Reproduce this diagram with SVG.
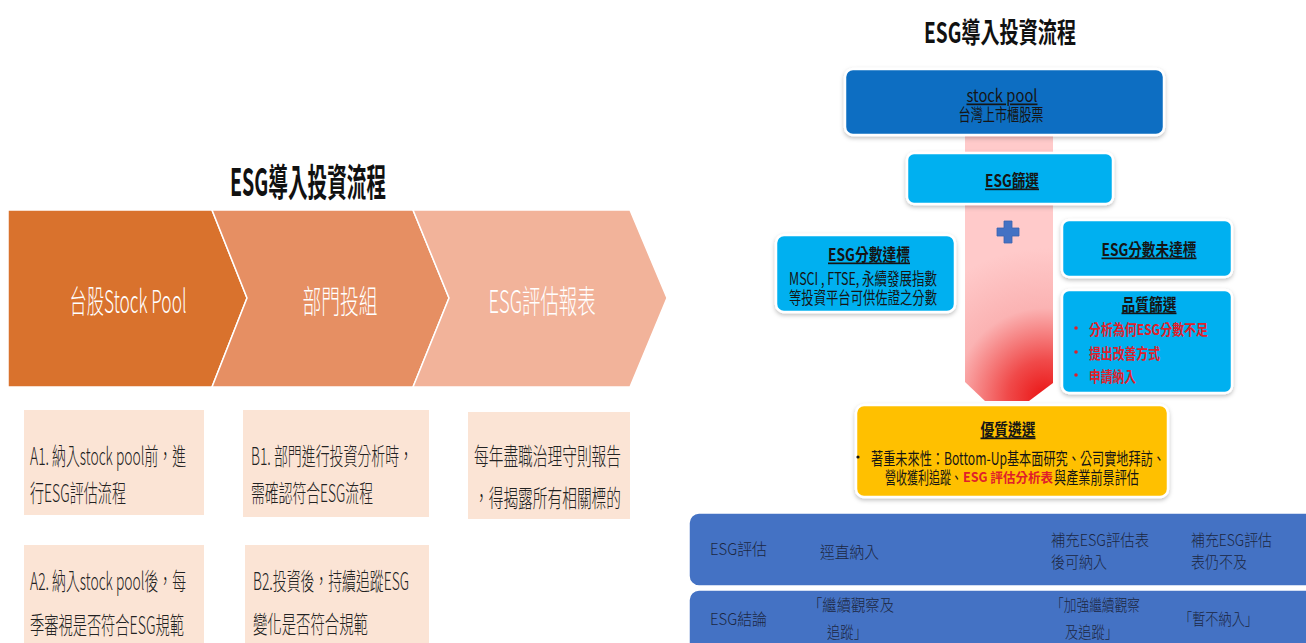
<svg xmlns="http://www.w3.org/2000/svg" width="1306" height="643" viewBox="0 0 1306 643">
<defs>
<style>
text{font-family:"Noto Sans CJK TC","Noto Sans",sans-serif;dominant-baseline:central}
.lt{font-weight:300;fill:#222;font-size:24px}
.chev{fill:#fff;font-weight:300;font-size:32px;text-anchor:middle}
.ttl{font-weight:700;fill:#111;text-anchor:middle}
.bx{fill:#FBE4D5}
.cb{fill:#00B0F0;stroke:#fff;stroke-width:2.5;filter:url(#sh)}
.rt{fill:#151515;font-size:17px}
.hd{font-weight:700;text-decoration:underline;text-anchor:middle}
.red{fill:#E0202A;font-weight:700}
.tb{fill:#4472C4;stroke:#fff;stroke-width:1.5}
.tt{fill:#1C2742;font-size:16px;font-weight:300}
</style>
<filter id="sh" x="-10%" y="-10%" width="120%" height="130%">
<feDropShadow dx="0" dy="2" stdDeviation="2" flood-color="#000" flood-opacity="0.25"/>
</filter>
<radialGradient id="rg" gradientUnits="userSpaceOnUse" cx="1045" cy="398" r="150">
<stop offset="0" stop-color="#EA1313"/>
<stop offset="0.25" stop-color="#F04A4A"/>
<stop offset="0.6" stop-color="#FBB3B3"/>
<stop offset="1" stop-color="#FFCACA"/>
</radialGradient>
</defs>
<rect width="1306" height="643" fill="#fff"/>

<!-- Left side -->
<text class="ttl" x="308" y="179" font-size="38" textLength="156" lengthAdjust="spacingAndGlyphs">ESG導入投資流程</text>

<g id="chevron1">
<polygon points="8,210 212,210 247,298 212,387 8,387" fill="#D9722D" stroke="#fff" stroke-width="1.5"/>
<text class="chev" x="128" y="299" textLength="117" lengthAdjust="spacingAndGlyphs">台股Stock Pool</text>
</g>
<g id="chevron2">
<polygon points="212,210 413,210 449,298 413,387 212,387 247,298" fill="#E68F63" stroke="#fff" stroke-width="1.5"/>
<text class="chev" x="340" y="299" textLength="75" lengthAdjust="spacingAndGlyphs">部門投組</text>
</g>
<g id="chevron3">
<polygon points="413,210 630,210 667,298 630,387 413,387 449,298" fill="#F2B39A" stroke="#fff" stroke-width="1.5"/>
<text class="chev" x="542" y="299" textLength="107" lengthAdjust="spacingAndGlyphs">ESG評估報表</text>
</g>

<g id="boxA1">
<rect class="bx" x="24" y="410" width="180" height="105"/>
<text class="lt" x="30" y="454" textLength="156" lengthAdjust="spacingAndGlyphs">A1. 納入stock pool前，進</text>
<text class="lt" x="30" y="491" textLength="96" lengthAdjust="spacingAndGlyphs">行ESG評估流程</text>
</g>
<g id="boxB1">
<rect class="bx" x="243" y="410" width="186" height="107"/>
<text class="lt" x="251" y="454" textLength="162" lengthAdjust="spacingAndGlyphs">B1. 部門進行投資分析時，</text>
<text class="lt" x="251" y="491" textLength="122" lengthAdjust="spacingAndGlyphs">需確認符合ESG流程</text>
</g>
<g id="boxC">
<rect class="bx" x="468" y="412" width="162" height="107"/>
<text class="lt" x="474" y="454" textLength="147" lengthAdjust="spacingAndGlyphs">每年盡職治理守則報告</text>
<text class="lt" x="474" y="496" textLength="147" lengthAdjust="spacingAndGlyphs">，得揭露所有相關標的</text>
</g>
<g id="boxA2">
<rect class="bx" x="24" y="545" width="180" height="110"/>
<text class="lt" x="30" y="579" textLength="156" lengthAdjust="spacingAndGlyphs">A2. 納入stock pool後，每</text>
<text class="lt" x="30" y="623" textLength="154" lengthAdjust="spacingAndGlyphs">季審視是否符合ESG規範</text>
</g>
<g id="boxB2">
<rect class="bx" x="245" y="545" width="184" height="110"/>
<text class="lt" x="253" y="579" textLength="156" lengthAdjust="spacingAndGlyphs">B2.投資後，持續追蹤ESG</text>
<text class="lt" x="253" y="622" textLength="115" lengthAdjust="spacingAndGlyphs">變化是否符合規範</text>
</g>

<!-- Right side -->
<text class="ttl" x="1000" y="31" font-size="28" textLength="152" lengthAdjust="spacingAndGlyphs">ESG導入投資流程</text>

<g id="connectors">
<polygon points="965,136 1053,136 1053,383 1029,401 985,401 965,382" fill="url(#rg)"/>
<path d="M1004,221 h8 v7 h7 v8 h-7 v7 h-8 v-7 h-7 v-8 h7 z" fill="#4472C4" stroke="#3A62AE" stroke-width="0.8"/>
</g>

<g id="stockpool">
<rect x="845" y="69" width="319" height="66" rx="8" fill="#0A6EC2" stroke="#fff" stroke-width="2.5" filter="url(#sh)"/>
<text class="rt" x="1002" y="94" font-size="16" text-anchor="middle" text-decoration="underline" textLength="71" lengthAdjust="spacingAndGlyphs">stock pool</text>
<text class="rt" x="1001" y="113" font-size="15" text-anchor="middle" textLength="85" lengthAdjust="spacingAndGlyphs">台灣上市櫃股票</text>
</g>

<g id="esgscreen">
<rect class="cb" x="907" y="153" width="206" height="51" rx="7"/>
<text class="rt hd" x="1012" y="179" font-size="18" textLength="54" lengthAdjust="spacingAndGlyphs">ESG篩選</text>
</g>

<g id="esgpass">
<rect class="cb" x="776" y="235" width="179" height="77" rx="8"/>
<text class="rt hd" x="869" y="253" font-size="16" textLength="82" lengthAdjust="spacingAndGlyphs">ESG分數達標</text>
<text class="rt" x="789" y="277" font-size="14" textLength="148" lengthAdjust="spacingAndGlyphs">MSCI , FTSE, 永續發展指數</text>
<text class="rt" x="789" y="296" font-size="14" textLength="148" lengthAdjust="spacingAndGlyphs">等投資平台可供佐證之分數</text>
</g>

<g id="esgfail">
<rect class="cb" x="1062" y="220" width="170" height="57" rx="7"/>
<text class="rt hd" x="1149" y="248" textLength="95" lengthAdjust="spacingAndGlyphs">ESG分數未達標</text>
</g>

<g id="quality">
<rect class="cb" x="1062" y="290" width="170" height="103" rx="7"/>
<text class="rt hd" x="1149" y="303" font-size="16" textLength="55" lengthAdjust="spacingAndGlyphs">品質篩選</text>
<circle cx="1076" cy="328" r="1.8" fill="#E0202A"/>
<circle cx="1076" cy="352" r="1.8" fill="#E0202A"/>
<circle cx="1076" cy="375" r="1.8" fill="#E0202A"/>
<text class="red" x="1089" y="328" font-size="15" textLength="119" lengthAdjust="spacingAndGlyphs">分析為何ESG分數不足</text>
<text class="red" x="1089" y="352" font-size="15" textLength="71" lengthAdjust="spacingAndGlyphs">提出改善方式</text>
<text class="red" x="1089" y="375" font-size="15" textLength="47" lengthAdjust="spacingAndGlyphs">申請納入</text>
</g>

<g id="premium">
<rect x="856" y="405" width="312" height="92" rx="8" fill="#FFC000" stroke="#fff" stroke-width="2.5" filter="url(#sh)"/>
<text class="rt hd" x="1008" y="428" font-size="16" textLength="55" lengthAdjust="spacingAndGlyphs">優質遴選</text>
<circle cx="858" cy="457" r="1.6" fill="#151515"/>
<text class="rt" x="871" y="457" font-size="13" textLength="294" lengthAdjust="spacingAndGlyphs">著重未來性：Bottom-Up基本面研究、公司實地拜訪、</text>
<text class="rt" x="885" y="476" font-size="13" textLength="77" lengthAdjust="spacingAndGlyphs">營收獲利追蹤、</text>
<text class="red" x="963" y="476" font-size="13" textLength="90" lengthAdjust="spacingAndGlyphs">ESG 評估分析表</text>
<text class="rt" x="1054" y="476" font-size="13" textLength="85" lengthAdjust="spacingAndGlyphs">與產業前景評估</text>
</g>

<g id="row-eval">
<rect class="tb" x="689" y="513" width="640" height="73" rx="10"/>
<text class="tt" x="710" y="548" textLength="57" lengthAdjust="spacingAndGlyphs">ESG評估</text>
<text class="tt" x="820" y="551" textLength="59" lengthAdjust="spacingAndGlyphs">逕直納入</text>
<text class="tt" x="1051" y="539" textLength="98" lengthAdjust="spacingAndGlyphs">補充ESG評估表</text>
<text class="tt" x="1051" y="561" textLength="56" lengthAdjust="spacingAndGlyphs">後可納入</text>
<text class="tt" x="1191" y="539" textLength="81" lengthAdjust="spacingAndGlyphs">補充ESG評估</text>
<text class="tt" x="1191" y="561" textLength="56" lengthAdjust="spacingAndGlyphs">表仍不及</text>
</g>
<g id="row-conclusion">
<rect class="tb" x="689" y="590" width="640" height="70" rx="10"/>
<text class="tt" x="710" y="618" textLength="57" lengthAdjust="spacingAndGlyphs">ESG結論</text>
<text class="tt" x="808" y="604" textLength="86" lengthAdjust="spacingAndGlyphs">「繼續觀察及</text>
<text class="tt" x="827" y="631" textLength="40" lengthAdjust="spacingAndGlyphs">追蹤」</text>
<text class="tt" x="1051" y="604" textLength="89" lengthAdjust="spacingAndGlyphs">「加強繼續觀察</text>
<text class="tt" x="1065" y="631" textLength="53" lengthAdjust="spacingAndGlyphs">及追蹤」</text>
<text class="tt" x="1179" y="618" textLength="79" lengthAdjust="spacingAndGlyphs">「暫不納入」</text>
</g>
</svg>
